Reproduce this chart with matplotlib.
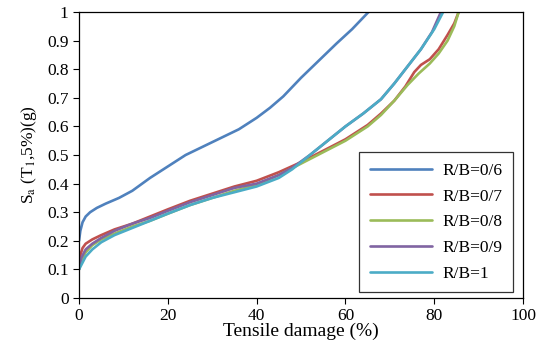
import matplotlib
matplotlib.use('Agg')
from matplotlib import pyplot as plt

plt.rcParams['font.family'] = ['Liberation Serif', 'DejaVu Serif']
plt.rcParams['mathtext.fontset'] = 'stix'

# damage (%) vs spectral acceleration for each R/B ratio
x_06 = [0, 0.3, 0.8, 1.5, 2.5, 4, 6, 9, 12, 16, 20, 24, 28, 32, 36, 40, 43, 46, 50, 54, 58, 61.5, 65.2]
y_06 = [0.20, 0.235, 0.265, 0.285, 0.30, 0.315, 0.33, 0.35, 0.375, 0.42, 0.46, 0.50, 0.53, 0.56, 0.59,
        0.63, 0.665, 0.705, 0.77, 0.83, 0.89, 0.94, 1.0]

x_07 = [0, 0.3, 0.8, 1.5, 3, 5, 8, 12, 16, 20, 25, 30, 35, 40, 45, 50, 55, 60, 65, 68, 71, 73.5, 75.5,
        77, 79, 81, 83, 84.5, 85.5]
y_07 = [0.11, 0.15, 0.175, 0.19, 0.205, 0.22, 0.24, 0.26, 0.285, 0.31, 0.34, 0.365, 0.39, 0.41, 0.44,
        0.475, 0.515, 0.555, 0.605, 0.645, 0.69, 0.74, 0.79, 0.815, 0.835, 0.87, 0.92, 0.96, 1.0]

x_08 = [0, 0.5, 1.5, 3, 5, 8, 12, 16, 20, 25, 30, 35, 40, 45, 50, 55, 60, 65, 68, 71, 74, 76.5, 79,
        81, 83, 84.5, 85.5]
y_08 = [0.10, 0.13, 0.16, 0.185, 0.205, 0.225, 0.25, 0.27, 0.295, 0.325, 0.35, 0.375, 0.395, 0.43,
        0.47, 0.51, 0.55, 0.60, 0.64, 0.69, 0.745, 0.785, 0.82, 0.855, 0.90, 0.95, 1.0]

x_09 = [0, 0.5, 1.5, 3, 5, 8, 12, 16, 20, 25, 30, 35, 40, 45, 48, 52, 56, 60, 64, 68, 71, 74, 77,
        79.5, 81.5]
y_09 = [0.10, 0.14, 0.17, 0.19, 0.21, 0.235, 0.26, 0.28, 0.305, 0.335, 0.36, 0.385, 0.40, 0.43, 0.455,
        0.50, 0.55, 0.60, 0.645, 0.695, 0.75, 0.81, 0.87, 0.93, 1.0]

x_10 = [0, 0.5, 1.5, 3, 5, 8, 12, 16, 20, 25, 30, 35, 40, 45, 48, 52, 56, 60, 64, 68, 71, 74, 77,
        80, 82]
y_10 = [0.10, 0.115, 0.145, 0.17, 0.195, 0.22, 0.245, 0.27, 0.295, 0.325, 0.35, 0.37, 0.39, 0.42, 0.45,
        0.50, 0.55, 0.60, 0.645, 0.695, 0.75, 0.81, 0.87, 0.94, 1.0]

series = [
    ('R/B=0/6', x_06, y_06, '#4F81BD'),
    ('R/B=0/7', x_07, y_07, '#C0504D'),
    ('R/B=0/8', x_08, y_08, '#9BBB59'),
    ('R/B=0/9', x_09, y_09, '#8064A2'),
    ('R/B=1', x_10, y_10, '#4BACC6'),
]

fig = plt.figure(figsize=(5.46, 3.49), dpi=100)
ax = fig.add_axes([0.1447, 0.146, 0.8133, 0.8196])

for label, xs, ys, color in series:
    ax.plot(xs, ys, color=color, lw=1.9, label=label, solid_capstyle='round')

ax.set_xlim(0, 100)
ax.set_ylim(0, 1)
ax.set_xticks([0, 20, 40, 60, 80, 100])
ax.set_yticks([0, 0.1, 0.2, 0.3, 0.4, 0.5, 0.6, 0.7, 0.8, 0.9, 1])
ax.set_yticklabels(['0', '0.1', '0.2', '0.3', '0.4', '0.5', '0.6', '0.7', '0.8', '0.9', '1'])
ax.tick_params(direction='out', length=4, width=0.8, labelsize=12.5, colors='black')
for sp in ax.spines.values():
    sp.set_linewidth(0.9)
    sp.set_color('black')

ax.set_xlabel('Tensile damage (%)', fontsize=14, labelpad=-1)
ax.set_ylabel(r'S$_\mathrm{a}$ (T$_1$,5%)(g)', fontsize=12.5, labelpad=6)

leg = ax.legend(loc='lower right', bbox_to_anchor=(0.977, 0.021), fontsize=12.5, frameon=True,
                fancybox=False, edgecolor='black', handlelength=3.6, labelspacing=0.55,
                borderpad=0.6, handletextpad=0.6, borderaxespad=0)
leg.get_frame().set_linewidth(0.9)

fig.savefig('out.png', dpi=100)
